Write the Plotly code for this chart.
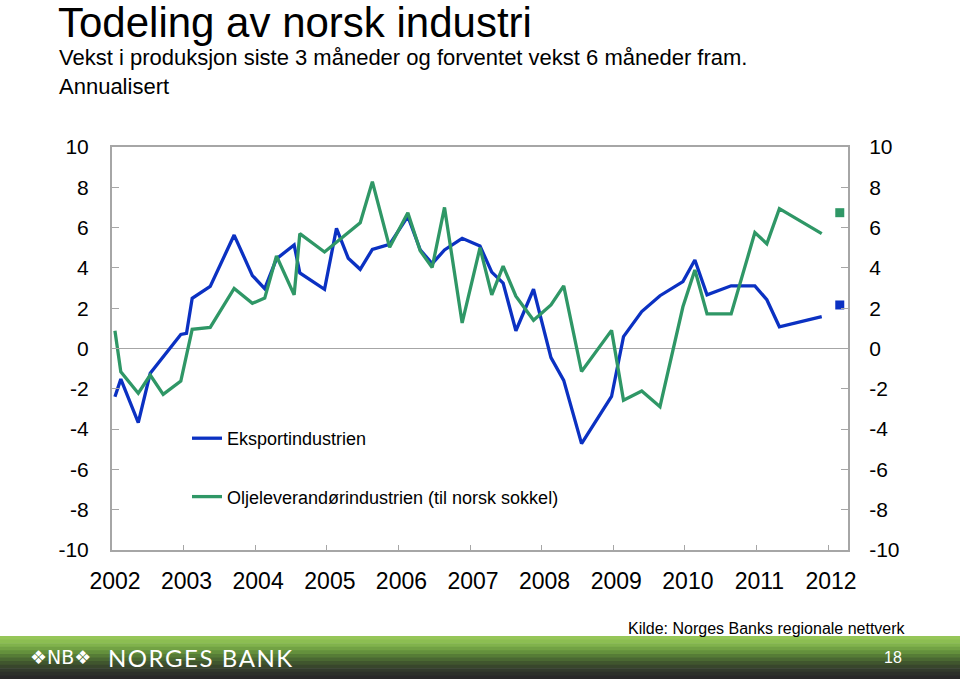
import plotly.graph_objects as go

# ---- data ----
dates = ["2002-01-16","2002-02-15","2002-05-15","2002-07-15","2002-09-19","2002-12-18",
         "2003-01-16","2003-02-14","2003-05-17","2003-09-16","2003-12-18",
         "2004-02-19","2004-04-19","2004-07-18","2004-08-16","2004-12-20",
         "2005-02-19","2005-04-20","2005-06-20","2005-08-21","2005-11-17",
         "2006-02-18","2006-04-22","2006-06-22","2006-08-24","2006-11-22",
         "2007-02-21","2007-04-22","2007-06-19","2007-08-23","2007-11-21",
         "2008-02-18","2008-04-23","2008-07-23","2008-12-23",
         "2009-02-22","2009-05-26","2009-08-27","2009-12-22",
         "2010-02-21","2010-04-24","2010-08-25","2010-12-24",
         "2011-02-23","2011-04-28","2011-11-30"]

eksport = [-2.39,-1.52,-3.68,-1.23,None,0.70,
           0.75,2.49,3.08,5.63,3.62,
           2.97,4.45,5.14,3.75,2.94,
           5.96,4.48,3.93,4.92,5.17,
           6.56,4.90,4.21,4.89,5.47,
           5.09,3.79,3.25,0.88,2.94,
           -0.45,-1.58,-4.72,-2.38,
           0.59,1.83,2.62,3.32,
           4.39,2.66,3.11,3.11,
           2.42,1.08,1.58]

olje = [0.88,-1.16,-2.22,-1.32,-2.28,-1.62,
        None,0.95,1.05,2.98,2.24,
        2.50,4.59,2.66,5.70,4.79,
        None,None,6.24,8.28,5.02,
        6.74,4.85,4.02,7.00,1.27,
        5.00,2.66,4.09,2.60,1.40,
        2.16,3.11,-1.14,0.90,
        -2.57,-2.11,-2.89,2.07,
        3.90,1.72,1.72,5.75,
        5.20,6.94,5.70]

forventet_dato = ["2012-03-01"]
forventet_eksport = [2.16]
forventet_olje = [6.74]

year_ticks = ["%d-01-01" % y for y in range(2002, 2013)]
year_labels = [str(y) for y in range(2002, 2013)]
y_ticks = list(range(-10, 11, 2))
y_labels = [str(v) for v in y_ticks]

series_names = ["Eksportindustrien", "Oljeleverandørindustrien (til norsk sokkel)"]

BLUE = "#0b31c2"
GREEN = "#2f9766"
AXIS = "#a6a6a6"
FONT = "Liberation Sans, Arial, sans-serif"

fig = go.Figure()
fig.add_trace(go.Scatter(x=dates, y=eksport, mode="lines", name=series_names[0],
                         line=dict(color=BLUE, width=3.3), connectgaps=True,
                         legendgroup="a"))
fig.add_trace(go.Scatter(x=dates, y=olje, mode="lines", name=series_names[1],
                         line=dict(color=GREEN, width=3.3), connectgaps=True,
                         legendgroup="b"))
fig.add_trace(go.Scatter(x=forventet_dato, y=forventet_eksport, mode="markers",
                         marker=dict(symbol="square", size=9, color=BLUE),
                         showlegend=False, yaxis="y2"))
fig.add_trace(go.Scatter(x=forventet_dato, y=forventet_olje, mode="markers",
                         marker=dict(symbol="square", size=9, color=GREEN),
                         showlegend=False, yaxis="y2"))

# footer gradient band (decoration)
band_cols = [(150,198,88),(140,190,82),(128,178,76),(114,162,68),(100,144,60),
             (86,124,54),(74,104,50),(64,86,46),(56,70,44),(50,58,44),(44,48,42),(40,40,40)]
y_top, y_bot = 636, 679
n = len(band_cols)

def px_x(x):
    return (x - 112) / 736

def px_y(y):
    return (550 - y) / 403

shapes = []
for i, c in enumerate(band_cols):
    p0 = y_top + (y_bot - y_top) * i / n
    p1 = y_top + (y_bot - y_top) * (i + 1) / n + 0.6
    shapes.append(dict(type="rect", xref="paper", yref="paper",
                       x0=px_x(0), x1=px_x(960),
                       y0=px_y(p1), y1=px_y(p0),
                       line=dict(width=0), fillcolor="rgb(%d,%d,%d)" % c))

annotations = [
    dict(text="Todeling av norsk industri", x=px_x(56), y=px_y(22), xref="paper", yref="paper",
         xanchor="left", yanchor="middle", showarrow=False,
         font=dict(family=FONT, size=42, color="black")),
    dict(text="Vekst i produksjon siste 3 måneder og forventet vekst 6 måneder fram.<br>Annualisert",
         x=px_x(57), y=px_y(72), xref="paper", yref="paper", align="left",
         xanchor="left", yanchor="middle", showarrow=False,
         font=dict(family=FONT, size=22, color="black")),
    dict(text="Kilde: Norges Banks regionale nettverk", x=px_x(908), y=px_y(628),
         xref="paper", yref="paper", xanchor="right", yanchor="middle", showarrow=False,
         font=dict(family=FONT, size=16, color="black")),
    dict(text="❖NB❖", x=px_x(28), y=px_y(657), xref="paper", yref="paper",
         xanchor="left", yanchor="middle", showarrow=False,
         font=dict(family="DejaVu Sans, sans-serif", size=19, color="white")),
    dict(text="N\u200aO\u200aR\u200aG\u200aE\u200aS\u2009 B\u200aA\u200aN\u200aK", x=px_x(106), y=px_y(657),
         xref="paper", yref="paper", xanchor="left", yanchor="middle", showarrow=False,
         font=dict(family="Lato, sans-serif", size=24, color="white")),
    dict(text="18", x=px_x(893), y=px_y(657), xref="paper", yref="paper",
         xanchor="center", yanchor="middle", showarrow=False,
         font=dict(family=FONT, size=16, color="white")),
]

fig.update_layout(
    width=960, height=679,
    margin=dict(l=112, r=112, t=147, b=129),
    paper_bgcolor="white", plot_bgcolor="white",
    font=dict(family=FONT, color="black"),
    showlegend=True,
    legend=dict(x=px_x(187), y=px_y(420), xanchor="left", yanchor="top",
                traceorder="grouped", tracegroupgap=32,
                font=dict(family=FONT, size=18, color="black"),
                bgcolor="rgba(0,0,0,0)", itemwidth=30),
    xaxis=dict(type="date", range=["2002-01-01", "2012-04-12"],
               tickmode="array", tickvals=year_ticks, ticktext=year_labels,
               ticks="inside", ticklen=5, tickcolor=AXIS, tickwidth=1,
               showline=True, linecolor=AXIS, linewidth=2, mirror=True,
               showgrid=False, zeroline=False, ticklabelstandoff=9,
               ticklabelshift=3,
               tickfont=dict(family=FONT, size=23, color="black")),
    yaxis=dict(range=[-10, 10], tickmode="array", tickvals=y_ticks, ticktext=y_labels,
               ticks="inside", ticklen=7, tickcolor=AXIS, tickwidth=1,
               showline=True, linecolor=AXIS, linewidth=2,
               showgrid=False, zeroline=True, zerolinecolor=AXIS, zerolinewidth=1,
               ticklabelstandoff=17,
               tickfont=dict(family=FONT, size=21, color="black")),
    yaxis2=dict(range=[-10, 10], tickmode="array", tickvals=y_ticks, ticktext=y_labels,
                overlaying="y", side="right",
                ticks="inside", ticklen=7, tickcolor=AXIS, tickwidth=1,
                showline=True, linecolor=AXIS, linewidth=2,
                showgrid=False, zeroline=False,
                ticklabelstandoff=15,
                tickfont=dict(family=FONT, size=21, color="black")),
    shapes=shapes,
    annotations=annotations,
)

fig.write_html("out.html", config={"displayModeBar": False},
               post_script="document.body.style.margin='0';document.body.style.overflow='hidden';")
